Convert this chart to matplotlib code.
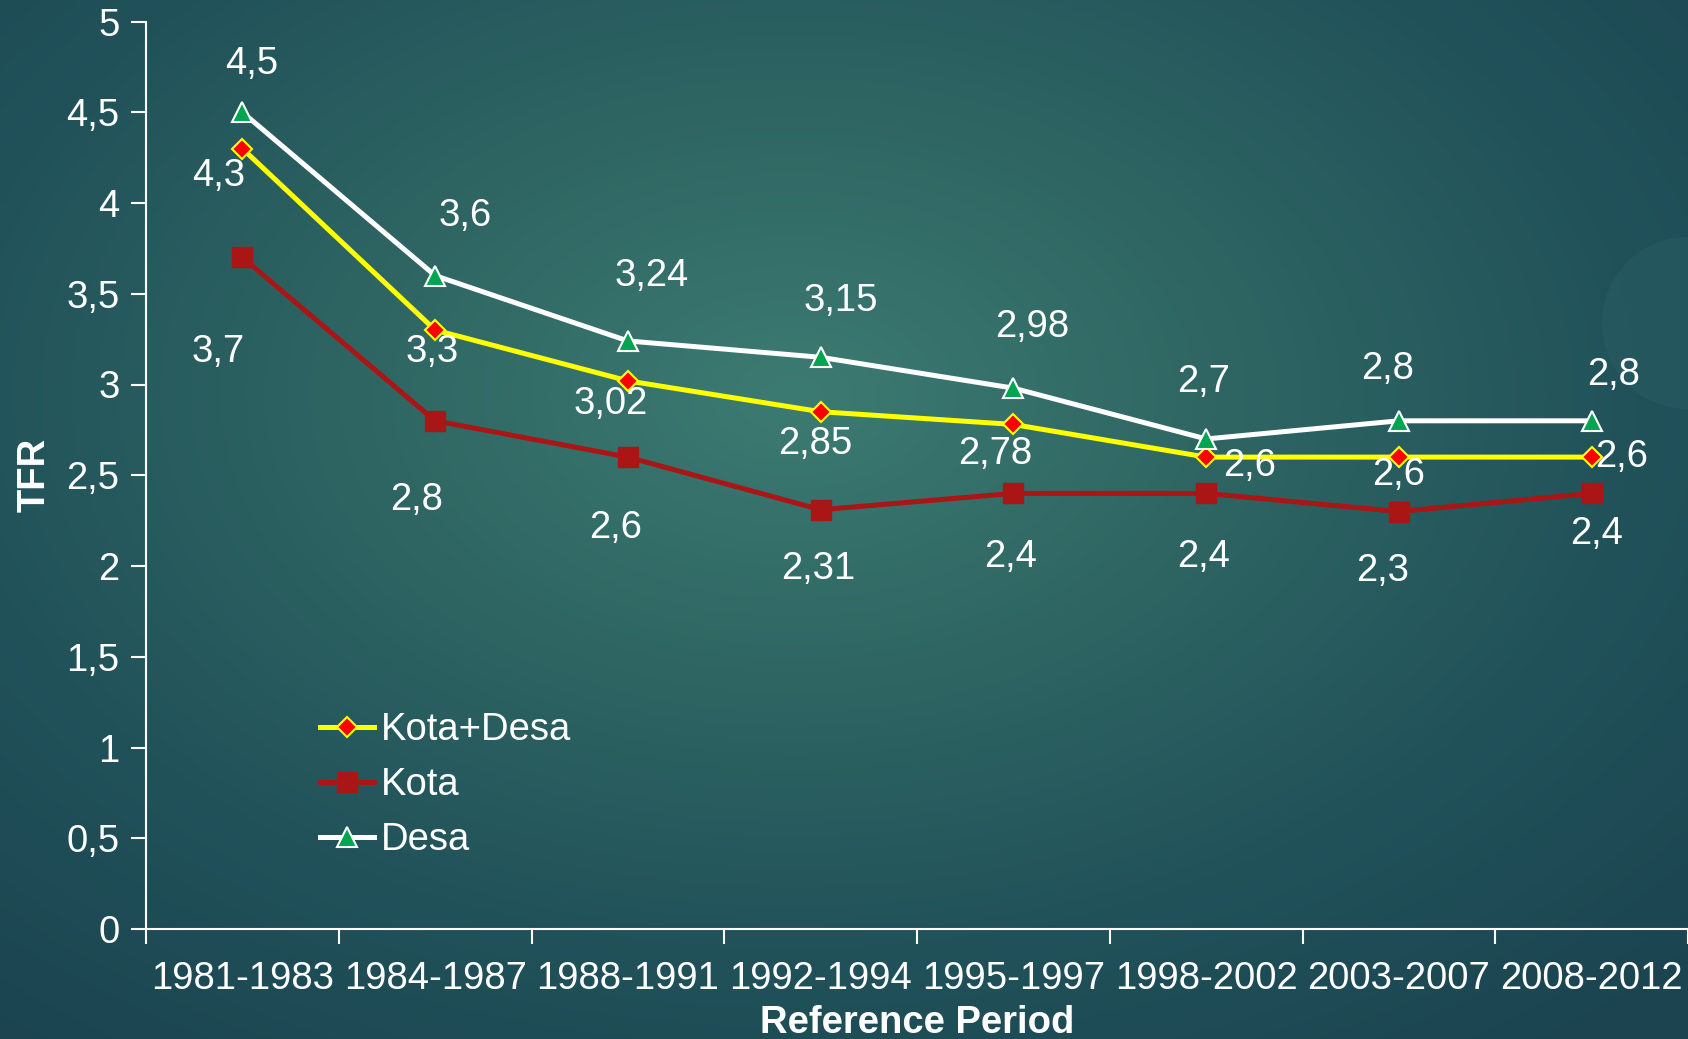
import numpy as np
import matplotlib
matplotlib.use("Agg")
import matplotlib.pyplot as plt
from matplotlib.colors import LinearSegmentedColormap
from matplotlib.patches import Ellipse

periods = ["1981-1983", "1984-1987", "1988-1991", "1992-1994",
           "1995-1997", "1998-2002", "2003-2007", "2008-2012"]
kota_desa = [4.3, 3.3, 3.02, 2.85, 2.78, 2.6, 2.6, 2.6]
kota = [3.7, 2.8, 2.6, 2.31, 2.4, 2.4, 2.3, 2.4]
desa = [4.5, 3.6, 3.24, 3.15, 2.98, 2.7, 2.8, 2.8]
yticks = [0, 0.5, 1, 1.5, 2, 2.5, 3, 3.5, 4, 4.5, 5]

# label offsets in pixels (dx, dy) relative to the data point
off_desa = [(9, 48), (30, 60), (24, 65), (20, 56), (19, 61), (-3, 57), (-11, 52), (22, 46)]
off_kd = [(-24, -27), (-3, -22), (-17, -23), (-5, -32), (-18, -30), (43, -9), (0, -18), (30, 0)]
off_kota = [(-24, -95), (-19, -79), (-12, -71), (-2, -59), (-3, -64), (-3, -64), (-16, -59), (5, -41)]

plt.rcParams['font.family'] = ['Liberation Sans', 'DejaVu Sans']
W, H = 1688, 1039
fig = plt.figure(figsize=(W / 100, H / 100), dpi=100)

# background gradient
bg = fig.add_axes([0, 0, 1, 1], zorder=-10)
yy, xx = np.mgrid[0:1:400j, 0:1:650j]
r = np.sqrt(((xx - 0.47) / 0.75) ** 2 + ((yy - 0.38) / 0.8) ** 2)
cmap = LinearSegmentedColormap.from_list("bg", ["#3c7b72", "#2f6663", "#21525a", "#1b4450"])
bg.imshow(np.clip(r, 0, 1), cmap=cmap, extent=[0, 1, 0, 1], origin='upper',
          aspect='auto', vmin=0, vmax=1)
bg.add_patch(Ellipse((1.0, 1 - 323 / H), 2 * 86 / W, 2 * 86 / H, transform=bg.transAxes,
                     color="#2a6064", alpha=0.45, ec="none"))
bg.set_xlim(0, 1)
bg.set_ylim(0, 1)
bg.axis('off')

ax = fig.add_axes([146 / W, 1 - 929 / H, 1542 / W, (929 - 21.5) / H])
ax.set_facecolor('none')
x = np.arange(len(periods))

ax.plot(x, kota_desa, color='#ffff00', lw=3.6, marker='D', ms=10, mfc='#ff0000',
        mec='#ffff00', mew=1.5, label='Kota+Desa', zorder=4)
ax.plot(x, kota, color='#aa1515', lw=3.6, marker='s', ms=15, mfc='#aa1515',
        mec='#aa1515', label='Kota', zorder=3)
ax.plot(x, desa, color='#ffffff', lw=3.6, marker='^', ms=14, mfc='#00a550',
        mec='#ffffff', mew=1.5, label='Desa', zorder=5)

def fmt(v):
    s = ("%.2f" % v).rstrip('0').rstrip('.')
    return s.replace('.', ',')

fs = 27.5
for vals, offs in ((desa, off_desa), (kota_desa, off_kd), (kota, off_kota)):
    for xi, v, (dx, dy) in zip(x, vals, offs):
        ax.annotate(fmt(v), (xi, v), xytext=(dx, dy), textcoords='offset pixels',
                    ha='center', va='center', color='white', fontsize=fs, zorder=6)

ax.set_xlim(-0.5, len(periods) - 0.5)
ax.set_ylim(0, 5)
ax.set_yticks(yticks)
ax.set_yticklabels([fmt(v) for v in yticks])
ax.set_xticks(x)
ax.set_xticklabels(periods)
ax.set_xticks(np.arange(len(periods) + 1) - 0.5, minor=True)
ax.tick_params(axis='x', which='major', length=0, pad=23, labelsize=fs, colors='white')
ax.tick_params(axis='x', which='minor', length=11, width=1.5, color='white', direction='out')
ax.tick_params(axis='y', length=11, width=1.5, colors='white', labelsize=fs, pad=8,
               direction='out')
for s in ('top', 'right'):
    ax.spines[s].set_visible(False)
for s in ('left', 'bottom'):
    ax.spines[s].set_color('white')
    ax.spines[s].set_linewidth(1.5)

ax.set_xlabel('Reference Period', fontsize=fs, fontweight='bold', color='white', labelpad=6)
ax.set_ylabel('TFR', fontsize=fs, fontweight='bold', color='white', labelpad=10)

leg = ax.legend(loc='upper left', bbox_to_anchor=(0.103, 0.256), frameon=False,
                fontsize=fs, labelcolor='white', handlelength=1.4, handletextpad=0.2,
                labelspacing=0.5, borderaxespad=0)

fig.savefig('out.png', dpi=100)
